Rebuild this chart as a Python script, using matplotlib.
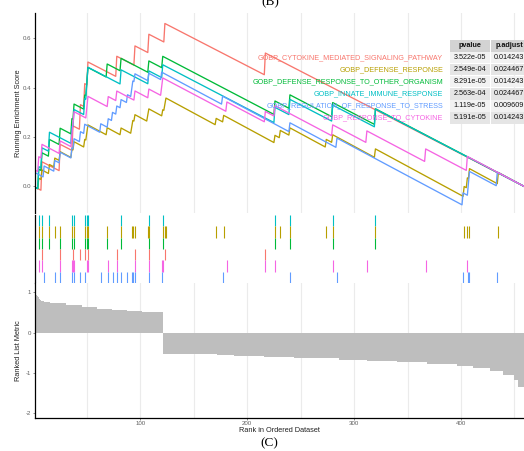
import numpy as np
import matplotlib
matplotlib.use("Agg")
import matplotlib.pyplot as plt
from matplotlib.patches import Rectangle

plt.rcParams['font.family'] = ['Liberation Sans', 'DejaVu Sans']
plt.rcParams['axes.unicode_minus'] = False

# ---------------- data ----------------
N_GENES = 459

set_names = [
    "GOBP_CYTOKINE_MEDIATED_SIGNALING_PATHWAY",
    "GOBP_DEFENSE_RESPONSE",
    "GOBP_DEFENSE_RESPONSE_TO_OTHER_ORGANISM",
    "GOBP_INNATE_IMMUNE_RESPONSE",
    "GOBP_REGULATION_OF_RESPONSE_TO_STRESS",
    "GOBP_RESPONSE_TO_CYTOKINE",
]
set_colors = ["#F8766D", "#B79F00", "#00BA38", "#00BFC4", "#619CFF", "#F564E3"]
pvalues = ["3.522e-05", "2.549e-04", "8.291e-05", "2.563e-04", "1.119e-05", "5.191e-05"]
padjust = ["0.014243", "0.024467", "0.014243", "0.024467", "0.009609", "0.014243"]

hits_cytokine_pathway = [8, 25, 37, 44, 48, 51, 78, 95, 108, 123, 217]
hits_defense = [5, 8, 15, 20, 25, 36, 38, 48, 50, 51, 69, 82, 92, 93, 95, 107, 108,
                121, 123, 124, 171, 178, 226, 231, 240, 274, 280, 320, 403, 406, 408, 435]
hits_defense_organism = [5, 8, 15, 25, 36, 38, 48, 50, 51, 69, 82, 108, 121, 226, 240, 280, 320]
hits_innate = [5, 8, 15, 36, 38, 48, 50, 51, 82, 108, 121, 226, 240, 280, 320]
hits_regulation_stress = [1, 10, 20, 25, 36, 38, 44, 48, 63, 70, 74, 78, 82, 88, 92, 93, 95,
                          108, 120, 177, 240, 284, 402, 407, 408, 434]
hits_response_cytokine = [1, 5, 8, 25, 36, 37, 38, 50, 51, 70, 78, 95, 108, 120, 121,
                          181, 217, 226, 280, 312, 367, 406]

# ranked list metric, read as runs of (value, number of genes)
metric_levels = [0.98, 0.96, 0.94, 0.92, 0.88, 0.85, 0.82, 0.80, 0.78, 0.76, 0.74, 0.69,
                 0.64, 0.59, 0.565, 0.54, 0.515, -0.52, -0.53, -0.55, -0.58, -0.61, -0.64,
                 -0.68, -0.71, -0.74, -0.78, -0.83, -0.89, -0.95, -1.06, -1.18, -1.36]
metric_counts = [1, 1, 1, 1, 1, 1, 1, 1, 1, 6, 15, 15, 14, 14, 14, 14, 20, 22, 28, 16,
                 28, 28, 42, 27, 28, 28, 28, 15, 16, 12, 10, 4, 6]

x_ticks = [100, 200, 300, 400]
es_ticks = [0.0, 0.2, 0.4, 0.6]
metric_ticks = [1, 0, -1, -2]

# ---------------- computation ----------------
all_hits = [hits_cytokine_pathway, hits_defense, hits_defense_organism,
            hits_innate, hits_regulation_stress, hits_response_cytokine]
ranks = np.arange(1, N_GENES + 1)
metric = np.repeat(metric_levels, metric_counts)


def running_es(hits):
    is_hit = np.isin(ranks, hits)
    w = np.abs(metric) * is_hit
    pos = np.cumsum(w) / w.sum()
    neg = np.cumsum(~is_hit) / (N_GENES - is_hit.sum())
    return pos - neg


# ---------------- figure ----------------
W_PX, H_PX = 524, 451
fig = plt.figure(figsize=(W_PX / 100, H_PX / 100), dpi=100)


def fx(x):
    return x / W_PX


def fy(y):
    return 1 - y / H_PX


left = fx(34.5)
width = 1 - left
ax1 = fig.add_axes([left, fy(213), width, 200 / H_PX])
ax2 = fig.add_axes([left, fy(283), width, 68 / H_PX])
ax3 = fig.add_axes([left, fy(417.7), width, (417.7 - 283) / H_PX])

grid_x = np.arange(50, N_GENES, 50)
tick_col = "#606060"
for ax in (ax1, ax2, ax3):
    ax.set_xlim(1, N_GENES)
    for s in ("top", "right"):
        ax.spines[s].set_visible(False)
    ax.spines["left"].set_linewidth(0.9)
    ax.spines["bottom"].set_linewidth(0.9)
    ax.tick_params(labelsize=4.4, colors=tick_col, length=1.6, width=0.5, pad=0.8)

# top panel
for g in grid_x:
    ax1.axvline(g, color="#EBEBEB", lw=0.8, zorder=0)
for hits, col in zip(all_hits, set_colors):
    ax1.plot(ranks, running_es(hits), color=col, lw=0.95, zorder=2)
ax1.set_ylim(-0.108, 0.7025)
ax1.set_yticks(es_ticks)
ax1.set_yticklabels([f"{t:.1f}" for t in es_ticks])
ax1.set_xticks([])
ax1.spines["bottom"].set_visible(False)

# marks panel (row order top -> bottom)
row_order = [3, 1, 2, 0, 5, 4]
for r, idx in enumerate(row_order):
    ax2.vlines(all_hits[idx], 5 - r, 6 - r, color=set_colors[idx], lw=0.8)
ax2.set_ylim(0, 6)
ax2.set_xticks([])
ax2.set_yticks([])
ax2.spines["bottom"].set_visible(False)

# ranked list panel
for g in grid_x:
    ax3.axvline(g, color="#EBEBEB", lw=0.8, zorder=0)
ax3.bar(ranks, metric, width=1.0, color="#BEBEBE", linewidth=0, zorder=1)
ax3.set_ylim(-2.114, 1.236)
ax3.set_yticks(metric_ticks)
ax3.set_yticklabels([str(t) for t in metric_ticks])
ax3.set_xticks(x_ticks)
ax3.set_xticklabels([str(t) for t in x_ticks])

# axis titles
fig.text(fx(18.5), fy(113), "Running Enrichment Score", rotation=90,
         ha="center", va="center", fontsize=5.3, color="#222222")
fig.text(fx(18.5), fy(350.5), "Ranked List Metric", rotation=90,
         ha="center", va="center", fontsize=5.3, color="#222222")
fig.text(fx(279), fy(430.7), "Rank in Ordered Dataset",
         ha="center", va="center", fontsize=5.3, color="#222222")

# panel letters
fig.text(fx(270), fy(8.5), "(B)", ha="center", va="bottom", fontsize=9.5,
         family=["Liberation Serif", "DejaVu Serif"])
fig.text(fx(269.5), fy(443), "(C)", ha="center", va="center", fontsize=9.5,
         family=["Liberation Serif", "DejaVu Serif"])

# legend labels and p-value table
row_h = 12.05
col1 = (449.5, 490.2)
col2 = (490.8, 530.0)
for c in (col1, col2):
    fig.add_artist(Rectangle((fx(c[0]), fy(51.5)), fx(c[1] - c[0]), 11.3 / H_PX,
                             transform=fig.transFigure, facecolor="#D3D3D3", edgecolor="none"))
fig.text(fx(469.9), fy(45.8), "pvalue", ha="center", va="center", fontsize=5.2,
         fontweight="bold", color="#111111")
fig.text(fx(509.3), fy(45.8), "p.adjust", ha="center", va="center", fontsize=5.2,
         fontweight="bold", color="#111111")
for i in range(len(set_names)):
    top = 51.7 + i * row_h + 0.4
    bot = 51.7 + (i + 1) * row_h - 0.4
    cy = (top + bot) / 2
    fill = "#F2F2F2" if i % 2 == 0 else "#E5E5E5"
    for c in (col1, col2):
        fig.add_artist(Rectangle((fx(c[0]), fy(bot)), fx(c[1] - c[0]), (bot - top) / H_PX,
                                 transform=fig.transFigure, facecolor=fill, edgecolor="none"))
    fig.text(fx(469.9), fy(cy), pvalues[i], ha="center", va="center", fontsize=5.2,
             color="#111111")
    fig.text(fx(509.3), fy(cy), padjust[i], ha="center", va="center", fontsize=5.2,
             color="#111111")
    fig.text(fx(443), fy(cy), set_names[i], ha="right", va="center", fontsize=5.2,
             color=set_colors[i], zorder=5)

fig.savefig("out.png", dpi=100)
